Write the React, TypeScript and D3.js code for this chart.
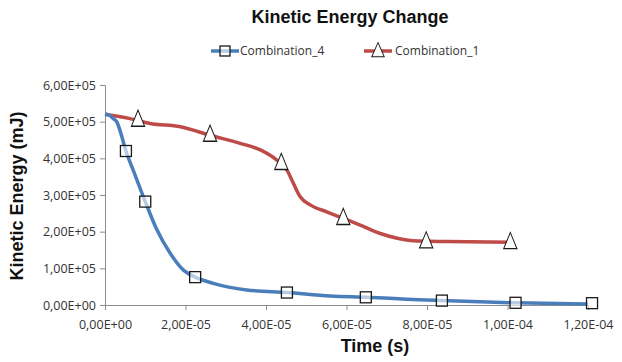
import React, { useEffect, useRef } from 'react';
import * as d3 from 'd3';

// Combination_4 line (time in s, energy in mJ)
const timeC4 = [0, 0.1e-5, 0.2e-5, 0.3e-5, 0.37e-5, 0.52e-5, 0.7e-5, 1.0e-5, 1.29e-5, 1.62e-5, 1.95e-5, 2.24e-5, 2.69e-5, 3.52e-5, 4.52e-5, 5.6e-5, 6.48e-5, 7.5e-5, 8.37e-5, 10.2e-5, 12.0e-5];
const energyC4 = [5.2e5, 5.18e5, 5.09e5, 4.98e5, 4.77e5, 4.2e5, 3.68e5, 2.82e5, 2.05e5, 1.41e5, 0.95e5, 0.76e5, 0.59e5, 0.41e5, 0.34e5, 0.245e5, 0.21e5, 0.16e5, 0.12e5, 0.06e5, 0.03e5];
const markTimeC4 = [0.52e-5, 1.0e-5, 2.24e-5, 4.52e-5, 6.48e-5, 8.37e-5, 10.2e-5, 12.1e-5];
const markEnergyC4 = [4.2e5, 2.82e5, 0.76e5, 0.34e5, 0.21e5, 0.12e5, 0.06e5, 0.05e5];

// Combination_1 line
const timeC1 = [0, 0.6e-5, 1.12e-5, 1.87e-5, 2.61e-5, 3.36e-5, 3.86e-5, 4.27e-5, 4.52e-5, 4.68e-5, 4.85e-5, 5.1e-5, 5.51e-5, 5.93e-5, 6.34e-5, 6.84e-5, 7.26e-5, 7.66e-5, 8.5e-5, 10.07e-5];
const energyC1 = [5.2e5, 5.09e5, 4.95e5, 4.86e5, 4.63e5, 4.41e5, 4.23e5, 3.95e5, 3.68e5, 3.32e5, 2.95e5, 2.73e5, 2.54e5, 2.36e5, 2.18e5, 1.95e5, 1.82e5, 1.75e5, 1.73e5, 1.71e5];
const markTimeC1 = [0.82e-5, 2.61e-5, 4.38e-5, 5.92e-5, 7.98e-5, 10.07e-5];
const markEnergyC1 = [5.05e5, 4.64e5, 3.87e5, 2.37e5, 1.73e5, 1.71e5];

const xTicks = [0, 2e-5, 4e-5, 6e-5, 8e-5, 1e-4, 1.2e-4];
const yTicks = [0, 1e5, 2e5, 3e5, 4e5, 5e5, 6e5];
const seriesNames = ['Combination_4', 'Combination_1'];

const fmt = (v: number) => {
  if (v === 0) return '0,00E+00';
  const e = Math.floor(Math.log10(Math.abs(v)) + 1e-9);
  const m = v / Math.pow(10, e);
  const sign = e < 0 ? '-' : '+';
  return `${m.toFixed(2).replace('.', ',')}E${sign}${String(Math.abs(e)).padStart(2, '0')}`;
};

const App = () => {
  const chartRef = useRef<SVGSVGElement>(null);

  useEffect(() => {
    const width = 622;
    const height = 362;
    const blue = '#4a7ebb';
    const red = '#be4b48';
    const axisColor = '#8c8c8c';
    const tickFont = '"Open Sans", "DejaVu Sans", sans-serif';

    const svg = d3.select(chartRef.current);
    svg.selectAll('*').remove();
    svg.attr('width', width).attr('height', height);

    svg.append('rect').attr('width', width).attr('height', height).attr('fill', 'white');

    const x = d3.scaleLinear().domain([0, 1.2e-4]).range([105, 588]);
    const y = d3.scaleLinear().domain([0, 6e5]).range([305, 85]);

    // axes
    const xAxis = svg.append('g').attr('transform', `translate(0,${y(0)})`)
      .call(d3.axisBottom(x).tickValues(xTicks).tickSize(5).tickFormat(d => fmt(+d)));
    const yAxis = svg.append('g').attr('transform', `translate(${x(0)},0)`)
      .call(d3.axisLeft(y).tickValues(yTicks).tickSize(5).tickFormat(d => fmt(+d)));

    [xAxis, yAxis].forEach(g => {
      g.select('.domain').attr('stroke', axisColor).attr('stroke-width', 1);
      g.selectAll('.tick line').attr('stroke', axisColor);
      g.selectAll('.tick text')
        .attr('fill', '#333')
        .style('font-family', tickFont)
        .style('font-size', '12.5px');
    });
    xAxis.selectAll('.tick text').attr('dy', '1.25em');
    yAxis.selectAll('.tick text').attr('x', -9);

    const line = d3.line<[number, number]>()
      .x(d => x(d[0]))
      .y(d => y(d[1]))
      .curve(d3.curveMonotoneX);

    const c4 = timeC4.map((t, i) => [t, energyC4[i]] as [number, number]);
    const c1 = timeC1.map((t, i) => [t, energyC1[i]] as [number, number]);

    svg.append('path').datum(c1).attr('d', line).attr('fill', 'none')
      .attr('stroke', red).attr('stroke-width', 3.5);
    svg.append('path').datum(c4).attr('d', line).attr('fill', 'none')
      .attr('stroke', blue).attr('stroke-width', 3.5);

    const tri = d3.symbol().type(d3.symbolTriangle).size(105);
    const sq = 11;

    svg.selectAll('.m1')
      .data(markTimeC1.map((t, i) => [t, markEnergyC1[i]]))
      .enter()
      .append('path')
      .attr('d', tri)
      .attr('transform', d => `translate(${x(d[0])},${y(d[1]) + 1}) scale(0.85,1.2)`)
      .attr('fill', 'white')
      .attr('stroke', '#1a1a1a')
      .attr('stroke-width', 1.1);

    svg.selectAll('.m4')
      .data(markTimeC4.map((t, i) => [t, markEnergyC4[i]]))
      .enter()
      .append('rect')
      .attr('x', d => x(d[0]) - sq / 2)
      .attr('y', d => y(d[1]) - sq / 2)
      .attr('width', sq)
      .attr('height', sq)
      .attr('fill', 'white')
      .attr('fill-opacity', 0.6)
      .attr('stroke', '#1a1a1a')
      .attr('stroke-width', 1.3);

    // title
    svg.append('text')
      .attr('x', 350).attr('y', 23)
      .attr('text-anchor', 'middle')
      .style('font-family', '"Liberation Sans", Arial, sans-serif')
      .style('font-weight', 'bold')
      .style('font-size', '18px')
      .attr('fill', '#111')
      .text('Kinetic Energy Change');

    // legend
    const legend = [
      { name: seriesNames[0], color: blue, cx: 225, tx: 240, marker: 'sq' },
      { name: seriesNames[1], color: red, cx: 378, tx: 395, marker: 'tri' }
    ];
    legend.forEach(l => {
      svg.append('line')
        .attr('x1', l.cx - 14).attr('x2', l.cx + 14)
        .attr('y1', 51).attr('y2', 51)
        .attr('stroke', l.color).attr('stroke-width', 3.5);
      if (l.marker === 'sq') {
        svg.append('rect')
          .attr('x', l.cx - 5).attr('y', 46).attr('width', 10).attr('height', 10)
          .attr('fill', 'white').attr('fill-opacity', 0.6)
          .attr('stroke', '#1a1a1a').attr('stroke-width', 1.3);
      } else {
        svg.append('path').attr('d', tri)
          .attr('transform', `translate(${l.cx},52) scale(0.8,1.05)`)
          .attr('fill', 'white').attr('stroke', '#1a1a1a').attr('stroke-width', 1.1);
      }
      svg.append('text')
        .attr('x', l.tx).attr('y', 55)
        .style('font-family', tickFont)
        .style('font-size', '12px')
        .attr('fill', '#333')
        .text(l.name);
    });

    // axis titles
    svg.append('text')
      .attr('x', 375).attr('y', 352)
      .attr('text-anchor', 'middle')
      .style('font-family', '"Liberation Sans", Arial, sans-serif')
      .style('font-weight', 'bold')
      .style('font-size', '18px')
      .attr('fill', '#111')
      .text('Time (s)');

    svg.append('text')
      .attr('transform', 'translate(23,196) rotate(-90)')
      .attr('text-anchor', 'middle')
      .style('font-family', '"Liberation Sans", Arial, sans-serif')
      .style('font-weight', 'bold')
      .style('font-size', '18px')
      .attr('fill', '#111')
      .text('Kinetic Energy (mJ)');
  }, []);

  return (
    <svg ref={chartRef} style={{ position: 'absolute', left: 0, top: 0 }}></svg>
  );
};

export default App;
